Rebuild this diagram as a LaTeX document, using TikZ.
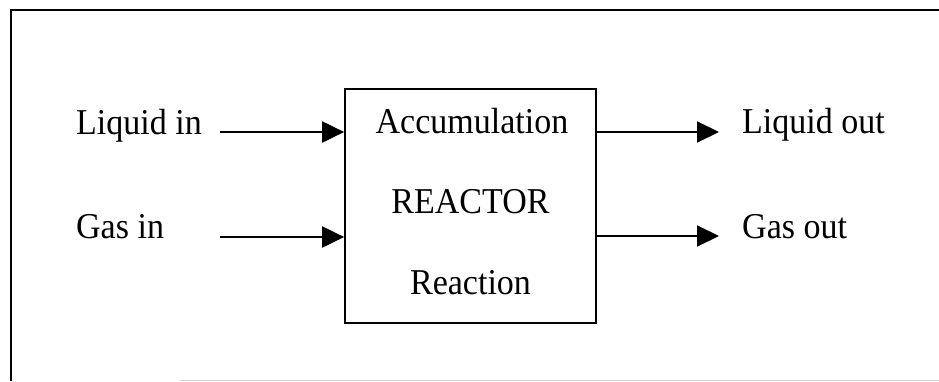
\documentclass[tikz,border=0pt]{standalone}
\usepackage{fontspec}
\setmainfont{Liberation Serif}
\usetikzlibrary{arrows.meta}
% slightly tall lettering
\newcommand\tallword[1]{\scalebox{1}[1.07]{#1}}
\begin{document}
\begin{tikzpicture}[x=1pt,y=-1pt,
  label/.style={inner sep=0pt,anchor=base west,font=\fontsize{34}{40}\selectfont},
  inlabel/.style={inner sep=0pt,anchor=base,font=\fontsize{34}{40}\selectfont},
  flow/.style={line width=2pt,-{Triangle[length=22pt,width=21pt]}},
  reactorbox/.style={draw,line width=1.7pt,minimum width=251pt,minimum height=234pt,inner sep=0pt}]
  \useasboundingbox (0,0) rectangle (939,381);
  % outer frame (top and left edges)
  \draw[line width=2pt] (11,381) -- (11,10) -- (939,10);
  \draw[line width=0.8pt,black!18] (180,380) -- (939,380);
  % reactor
  \node[reactorbox] (box) at (470.5,206) {};
  \node[inlabel] (acc) at (472,133) {\tallword{Accumulation}};
  \node[inlabel] (rea) at (470.5,213) {\tallword{REACTOR}};
  \node[inlabel] (rxn) at (470.5,294) {\tallword{Reaction}};
  % stream labels
  \node[label] (lin) at (76,134) {\tallword{Liquid in}};
  \node[label] (gin) at (76,238) {\tallword{Gas in}};
  \node[label] (lout) at (742,133) {\tallword{Liquid out}};
  \node[label] (gout) at (742,238) {\tallword{Gas out}};
  % stream arrows
  \coordinate (linS) at (220,132);
  \coordinate (ginS) at (220,237);
  \coordinate (loutE) at (719,132);
  \coordinate (goutE) at (719,236);
  \draw[flow] (linS) -- (box.west |- linS);
  \draw[flow] (ginS) -- (box.west |- ginS);
  \draw[flow] (box.east |- loutE) -- (loutE);
  \draw[flow] (box.east |- goutE) -- (goutE);
\end{tikzpicture}
\end{document}
